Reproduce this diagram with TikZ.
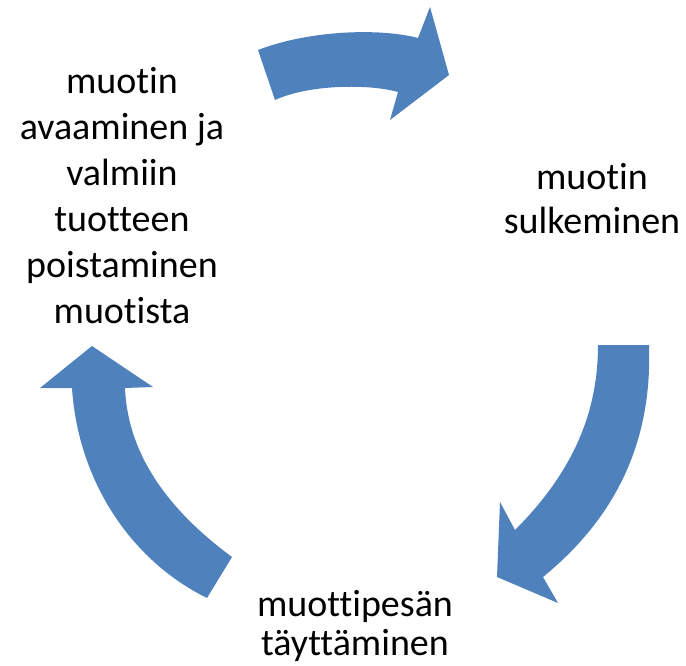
\documentclass[tikz,border=0pt]{standalone}
\usepackage{fontspec}
\setmainfont{Carlito}[Ligatures={NoCommon,NoContextual}]
\begin{document}
\begin{tikzpicture}[x=1pt,y=-1pt,
  cyclearrow/.style={fill=arrowblue,draw=none},
  steplabel/.style={align=center,inner sep=0pt,text=black}]
\definecolor{arrowblue}{RGB}{79,129,189}
\useasboundingbox (0,0) rectangle (686,666);

% step labels
\node[steplabel,font=\fontsize{38}{46}\selectfont] (open) at (122,196)
  {muotin\\avaaminen ja\\valmiin\\tuotteen\\poistaminen\\muotista};
\node[steplabel,font=\fontsize{38}{44}\selectfont] (close) at (592,199)
  {muotin\\sulkeminen};
\node[steplabel,font=\fontsize{38}{39}\selectfont] (fill) at (355,626)
  {muottipesän\\täyttäminen};

% curved block arrows between the steps
% top: opening -> closing
\fill[cyclearrow] (258,50) .. controls (310,30) and (380,28) .. (418,38)
  -- (430,7) -- (449,75) -- (390,120) -- (398,92)
  .. controls (370,84) and (310,84) .. (275,100) -- cycle;
% right: closing -> filling
\fill[cyclearrow] (598,345) -- (649,345)
  .. controls (652,430) and (625,510) .. (543,577)
  -- (558,603) -- (497,577) -- (500,502) -- (515,530)
  .. controls (575,470) and (598,410) .. (598,345) -- cycle;
% left: filling -> opening
\fill[cyclearrow] (207,598) -- (232,557)
  .. controls (175,515) and (128,460) .. (125,388)
  -- (153,387) -- (92,346) -- (40,388) -- (72,388)
  .. controls (78,480) and (130,560) .. (207,598) -- cycle;
\end{tikzpicture}
\end{document}
